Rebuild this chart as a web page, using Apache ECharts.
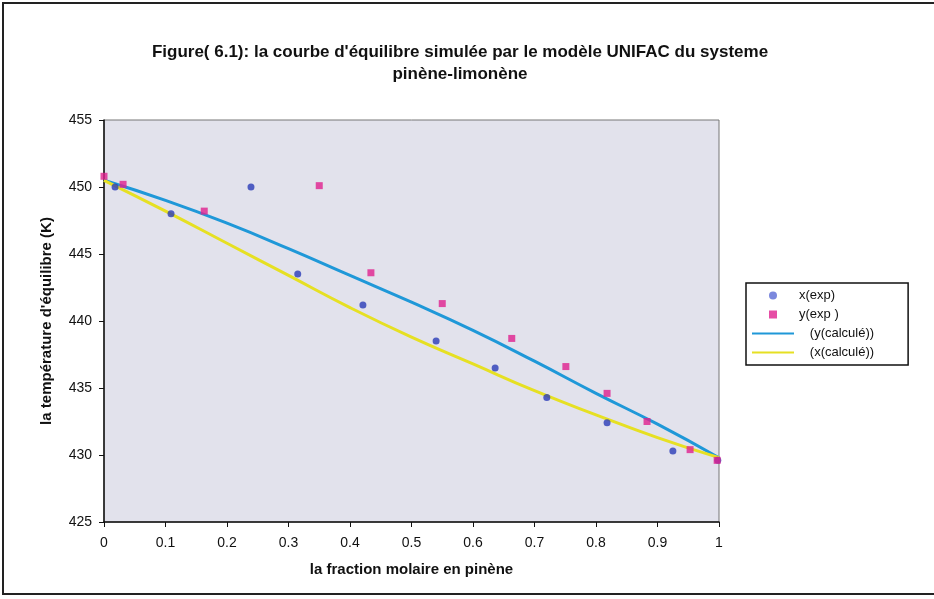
<!DOCTYPE html>
<html><head><meta charset="utf-8">
<script src="https://cdn.jsdelivr.net/npm/echarts@6/dist/echarts.min.js"></script>
<style>html,body{margin:0;padding:0;background:#fff}#c{width:934px;height:599px}</style>
</head><body><div id="c"></div>
<script>
const titleLines = ["Figure( 6.1): la courbe d'équilibre simulée par le modèle UNIFAC du systeme", "pinène-limonène"];
const xAxisName = "la fraction molaire en pinène";
const yAxisName = "la température d'équilibre (K)";
const seriesNames = ["x(exp)", "y(exp )", "   (y(calculé))", "   (x(calculé))"];

const xExpX = [0.018, 0.109, 0.239, 0.315, 0.421, 0.540, 0.636, 0.720, 0.818, 0.925, 0.998];
const xExpT = [450.0, 448.0, 450.0, 443.5, 441.2, 438.5, 436.5, 434.3, 432.4, 430.3, 429.6];

const yExpX = [0.000, 0.031, 0.163, 0.350, 0.434, 0.550, 0.663, 0.751, 0.818, 0.883, 0.953, 0.997];
const yExpT = [450.8, 450.2, 448.2, 450.1, 443.6, 441.3, 438.7, 436.6, 434.6, 432.5, 430.4, 429.6];

const calcX = [0.0, 0.1, 0.2, 0.3, 0.4, 0.5, 0.6, 0.7, 0.8, 0.9, 1.0];
const yCalcT = [450.5, 449.0, 447.3, 445.4, 443.4, 441.4, 439.3, 437.0, 434.6, 432.3, 429.8];
const xCalcT = [450.5, 448.2, 445.8, 443.4, 441.0, 438.8, 436.8, 434.8, 433.0, 431.3, 429.8];

const pair = (xs, ys) => xs.map((x, i) => [x, ys[i]]);

const chart = echarts.init(document.getElementById('c'));
const font = 'Liberation Sans, Arial, sans-serif';
chart.setOption({
  animation: false,
  backgroundColor: '#fff',
  textStyle: { fontFamily: font },
  title: {
    text: titleLines.join('\n'),
    left: 455, top: 36, textAlign: 'center',
    textStyle: { fontSize: 17, fontWeight: 'bold', color: '#111', lineHeight: 22, fontFamily: font }
  },
  graphic: [
    { type: 'polyline', shape: { points: [[940, 3], [3, 3], [3, 594], [940, 594]] }, style: { fill: 'none', stroke: '#222', lineWidth: 2 }, silent: true }
  ],
  grid: { left: 104, right: 215, top: 120, bottom: 77, show: true, backgroundColor: '#e2e2ec', borderColor: '#777', borderWidth: 1 },
  xAxis: {
    type: 'value', min: 0, max: 1, interval: 0.1,
    name: xAxisName, nameLocation: 'middle', nameGap: 40,
    nameTextStyle: { fontSize: 15, fontWeight: 'bold', color: '#111', fontFamily: font },
    axisLine: { lineStyle: { color: '#111', width: 1.5 } },
    axisTick: { show: true, inside: false, length: 5, lineStyle: { color: '#111' } },
    axisLabel: { fontSize: 14, color: '#111', margin: 14, fontFamily: font, formatter: v => String(Math.round(v * 10) / 10) },
    splitLine: { show: false }
  },
  yAxis: {
    type: 'value', min: 425, max: 455, interval: 5,
    name: yAxisName, nameLocation: 'middle', nameGap: 50, nameRotate: 90,
    nameTextStyle: { fontSize: 15, fontWeight: 'bold', color: '#111', fontFamily: font },
    axisLine: { show: true, lineStyle: { color: '#111', width: 1.5 } },
    axisTick: { show: true, inside: false, length: 5, lineStyle: { color: '#111' } },
    axisLabel: { fontSize: 14, color: '#111', margin: 12, fontFamily: font },
    splitLine: { show: false }
  },
  legend: {
    orient: 'vertical', left: 746, top: 283,
    backgroundColor: '#fff', borderColor: '#111', borderWidth: 1.5,
    padding: [6, 34, 6, 6], itemGap: 6, itemWidth: 42, itemHeight: 8,
    textStyle: { fontSize: 13, color: '#111', fontFamily: font },
    data: [
      { name: seriesNames[0], icon: 'circle', itemStyle: { color: '#5a6ad4' } },
      { name: seriesNames[1], icon: 'path://M0,0h10v10h-10z', itemStyle: { color: '#e0208f' } },
      { name: seriesNames[2], icon: 'path://M0,0h42v2h-42z', itemStyle: { color: '#1f98d8' } },
      { name: seriesNames[3], icon: 'path://M0,0h42v2h-42z', itemStyle: { color: '#e6e023' } }
    ]
  },
  series: [
    { name: seriesNames[2], type: 'line', smooth: true, showSymbol: false, data: pair(calcX, yCalcT),
      lineStyle: { color: '#1f98d8', width: 3 }, itemStyle: { color: '#1f98d8' }, z: 2 },
    { name: seriesNames[3], type: 'line', smooth: true, showSymbol: false, data: pair(calcX, xCalcT),
      lineStyle: { color: '#e6e023', width: 3 }, itemStyle: { color: '#e6e023' }, z: 2 },
    { name: seriesNames[0], type: 'scatter', symbol: 'circle', symbolSize: 7, data: pair(xExpX, xExpT),
      itemStyle: { color: '#2a3cb8' }, z: 3 },
    { name: seriesNames[1], type: 'scatter', symbol: 'rect', symbolSize: 7, data: pair(yExpX, yExpT),
      itemStyle: { color: '#e0208f' }, z: 3 }
  ]
});
</script></body></html>
